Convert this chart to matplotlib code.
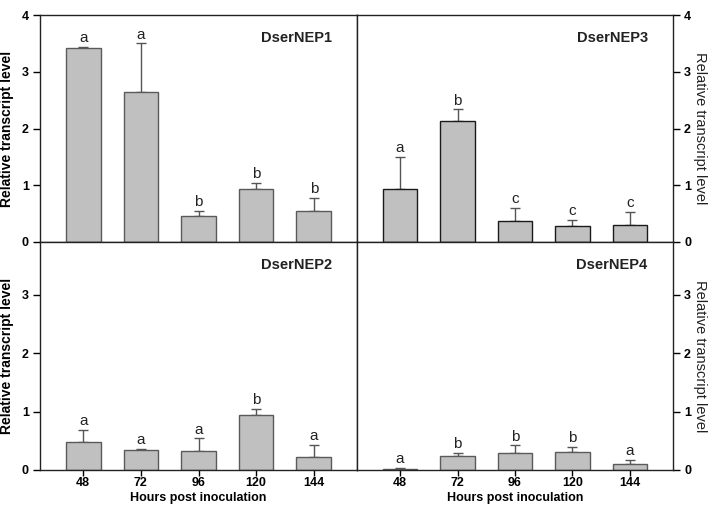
import matplotlib
matplotlib.use('Agg')
import matplotlib.pyplot as plt
import numpy as np

plt.rcParams['font.family'] = ['Liberation Sans', 'DejaVu Sans']

hours = ['48', '72', '96', '120', '144']

nep1 = [3.41, 2.65, 0.46, 0.94, 0.54]
nep1_err = [0.03, 0.85, 0.09, 0.10, 0.24]
nep1_sig = ['a', 'a', 'b', 'b', 'b']

nep3 = [0.93, 2.14, 0.37, 0.29, 0.30]
nep3_err = [0.57, 0.20, 0.23, 0.10, 0.23]
nep3_sig = ['a', 'b', 'c', 'c', 'c']

nep2 = [0.48, 0.35, 0.33, 0.94, 0.22]
nep2_err = [0.20, 0.01, 0.21, 0.10, 0.21]
nep2_sig = ['a', 'a', 'a', 'b', 'a']

nep4 = [0.02, 0.245, 0.29, 0.30, 0.10]
nep4_err = [0.01, 0.045, 0.13, 0.10, 0.07]
nep4_sig = ['a', 'b', 'b', 'b', 'a']

fig = plt.figure(figsize=(7.08, 5.08), dpi=100)

W = 708.0
H = 508.0
ax1 = fig.add_axes([40 / W, 1 - 242 / H, 317 / W, 227 / H])
ax3 = fig.add_axes([357 / W, 1 - 242 / H, 316 / W, 227 / H])
ax2 = fig.add_axes([40 / W, 1 - 470 / H, 317 / W, 228 / H])
ax4 = fig.add_axes([357 / W, 1 - 470 / H, 316 / W, 228 / H])

panels = [
    (ax1, nep1, nep1_err, nep1_sig, 'DserNEP1', 4.0, 'left', False, '#5a5a5a'),
    (ax3, nep3, nep3_err, nep3_sig, 'DserNEP3', 4.0, 'right', False, '#1a1a1a'),
    (ax2, nep2, nep2_err, nep2_sig, 'DserNEP2', 3.9, 'left', True, '#5a5a5a'),
    (ax4, nep4, nep4_err, nep4_sig, 'DserNEP4', 3.9, 'right', True, '#5a5a5a'),
]

x = np.arange(len(hours))

for ax, vals, errs, sig, name, ymax, side, bottom, edge in panels:
    ax.bar(x, vals, width=0.6, color='#c0c0c0', edgecolor=edge, linewidth=1.0, zorder=2)
    ax.errorbar(x, vals, yerr=[np.zeros(len(vals)), errs], fmt='none',
                ecolor='#555555', elinewidth=1.0, capsize=3.5, capthick=1.0, zorder=1)
    for xi, v, e, s in zip(x, vals, errs, sig):
        ax.text(xi, v + e + 0.03, s, ha='center', va='bottom', fontsize=11, color='#222222')
    ax.set_xlim(-0.75, 4.75)
    ax.set_ylim(0, ymax)
    ax.set_yticks([0, 1, 2, 3, 4] if ymax >= 4 else [0, 1, 2, 3])
    ax.text(0.92, 0.9, name, transform=ax.transAxes, ha='right', va='center',
            fontsize=10.5, fontweight='bold', color='#222222')
    for sp in ax.spines.values():
        sp.set_linewidth(1.0)
        sp.set_color('#222222')
    if side == 'left':
        ax.yaxis.tick_left()
        ax.set_ylabel('Relative transcript level', fontsize=10, fontweight='bold',
                      va='center', ha='center')
        ax.yaxis.set_label_coords(-0.105, 0.5)
    else:
        ax.yaxis.tick_right()
        ax.yaxis.set_label_position('right')
        ax.set_ylabel('Relative transcript level', fontsize=10.5,
                      rotation=270, va='center', ha='center', color='#222222')
        ax.yaxis.set_label_coords(1.087, 0.5)
    ax.tick_params(axis='y', direction='out', length=5, width=1.0, labelsize=9, pad=3)
    for lbl in ax.get_yticklabels():
        lbl.set_fontweight('bold')
    if bottom:
        ax.set_xticks(x)
        ax.set_xticklabels(hours, fontsize=9, fontweight='bold')
        ax.tick_params(axis='x', direction='out', length=4, width=1.0, pad=1)
        ax.set_xlabel('Hours post inoculation', fontsize=9, fontweight='bold', labelpad=2.5)
    else:
        ax.set_xticks([])

fig.savefig('out.png', dpi=100)
